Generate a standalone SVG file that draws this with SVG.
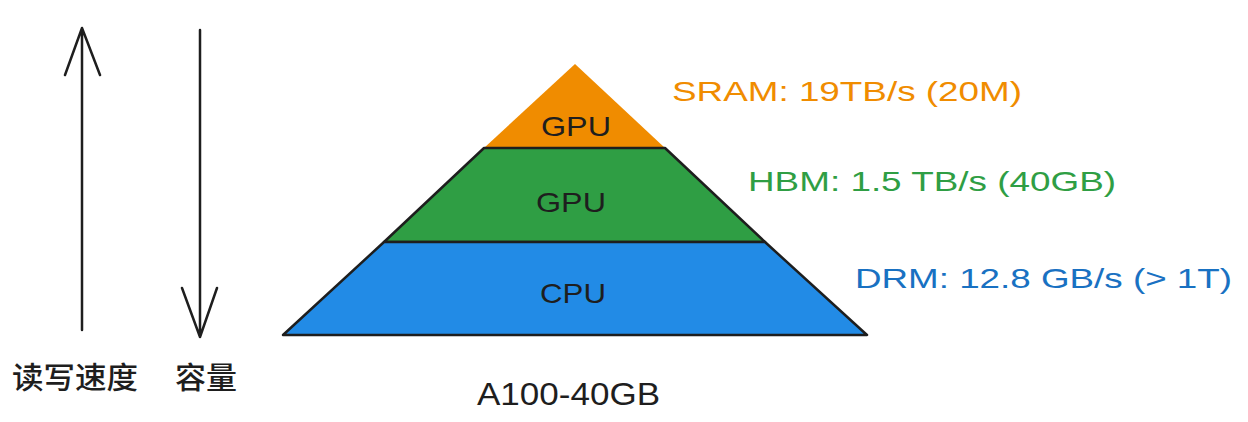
<svg xmlns="http://www.w3.org/2000/svg" width="1248" height="422" viewBox="0 0 1248 422">
<style>
.lbl{font-family:"Liberation Sans","Noto Sans",sans-serif;font-size:28px;}
.cjk{font-family:"Noto Sans CJK SC","Noto Sans",sans-serif;font-size:30px;font-weight:500;fill:#1e1e1e;}
.dark{fill:#1e1e1e;}
.edge{fill:none;stroke:#1e1e1e;stroke-width:2.5;stroke-linecap:round;stroke-linejoin:round;}
.tier{stroke:#1e1e1e;stroke-width:2.5;stroke-linejoin:round;}
</style>
<rect width="1248" height="422" fill="#ffffff"/>
<g id="connectors">
  <path class="edge" d="M82 330 L82 28 M65 75 L82 28 L100 75"/>
  <path class="edge" d="M200 30 L200 337 M182 288 L200 337 L217 288"/>
</g>
<g id="node-sram">
  <polygon points="575,64 665,148 484,148" fill="#f08c00"/>
  <text class="lbl dark" x="576" y="136" text-anchor="middle" textLength="70" lengthAdjust="spacingAndGlyphs">GPU</text>
</g>
<g id="node-hbm">
  <polygon class="tier" points="484,148 665,148 765,242 384,242" fill="#2f9e44"/>
  <text class="lbl dark" x="571" y="212" text-anchor="middle" textLength="70" lengthAdjust="spacingAndGlyphs">GPU</text>
</g>
<g id="node-dram">
  <polygon class="tier" points="384,242 765,242 867,335 283,335" fill="#228be6"/>
  <text class="lbl dark" x="573" y="303" text-anchor="middle" textLength="66" lengthAdjust="spacingAndGlyphs">CPU</text>
</g>
<g id="label-sram">
  <text class="lbl" x="672" y="101" fill="#f08c00" textLength="350" lengthAdjust="spacingAndGlyphs">SRAM: 19TB/s (20M)</text>
</g>
<g id="label-hbm">
  <text class="lbl" x="748" y="191" fill="#2f9e44" textLength="368" lengthAdjust="spacingAndGlyphs">HBM: 1.5 TB/s (40GB)</text>
</g>
<g id="label-dram">
  <text class="lbl" x="855" y="288" fill="#1971c2" textLength="377" lengthAdjust="spacingAndGlyphs">DRM: 12.8 GB/s (&gt; 1T)</text>
</g>
<g id="label-title">
  <text class="lbl dark" x="477" y="405" style="font-size:31px" textLength="183" lengthAdjust="spacingAndGlyphs">A100-40GB</text>
</g>
<g id="label-speed">
  <text class="cjk" x="12" y="388" textLength="126" lengthAdjust="spacingAndGlyphs">读写速度</text>
</g>
<g id="label-capacity">
  <text class="cjk" x="175" y="388" textLength="62" lengthAdjust="spacingAndGlyphs">容量</text>
</g>
</svg>
